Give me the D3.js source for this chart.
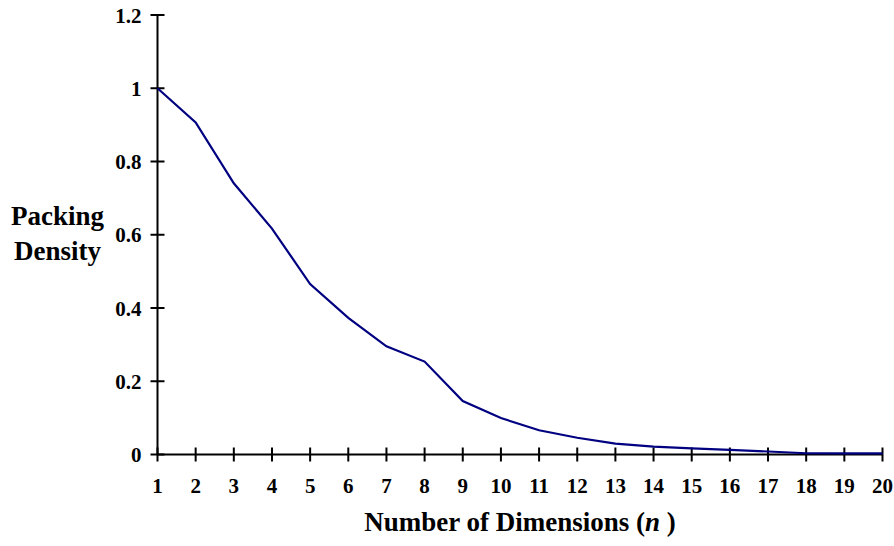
<!DOCTYPE html>
<html><head><meta charset="utf-8">
<script src="https://cdn.jsdelivr.net/npm/d3@7"></script>
<style>body{margin:0;background:#fff}svg{display:block}text{font-family:"Liberation Serif","Times New Roman",serif;font-weight:bold;fill:#000}</style>
</head><body>
<svg id="c" width="894" height="546"></svg>
<script>
const dimensions = [1,2,3,4,5,6,7,8,9,10,11,12,13,14,15,16,17,18,19,20];
const density = [1.0,0.9069,0.7405,0.6169,0.4653,0.3729,0.2953,0.2537,0.1458,0.0996,0.0662,0.0457,0.0295,0.0216,0.0168,0.0127,0.0082,0.0034,0.0033,0.0033];
const yTicks = [0,0.2,0.4,0.6,0.8,1,1.2];
const yLabel = ["Packing","Density"];

const svg = d3.select("#c");
const x = d3.scaleLinear().domain([1,20]).range([157.5,882.5]);
const y = d3.scaleLinear().domain([0,1.2]).range([454.5,15]);

// axes
const ax = svg.append("g").attr("stroke","#000").attr("stroke-width",2);
ax.append("line").attr("x1",x(1)).attr("x2",x(20)).attr("y1",y(0)).attr("y2",y(0));
ax.append("line").attr("x1",x(1)).attr("x2",x(1)).attr("y1",y(0)).attr("y2",y(1.2));
ax.selectAll(".yt").data(yTicks).enter().append("line")
  .attr("x1",x(1)-7).attr("x2",x(1)+7).attr("y1",d=>y(d)).attr("y2",d=>y(d));
ax.selectAll(".xt").data(dimensions).enter().append("line")
  .attr("x1",d=>x(d)).attr("x2",d=>x(d)).attr("y1",y(0)-7).attr("y2",y(0)+7);

svg.selectAll(".yl").data(yTicks).enter().append("text")
  .attr("x",141.5).attr("y",d=>y(d)+7.5).attr("text-anchor","end").attr("font-size",21)
  .text(d=>d3.format("")(d));
svg.selectAll(".xl").data(dimensions).enter().append("text")
  .attr("x",d=>x(d)).attr("y",492.5).attr("text-anchor","middle").attr("font-size",21)
  .text(d=>d);

// line
svg.append("path").datum(dimensions.map((d,i)=>[d,density[i]]))
  .attr("fill","none").attr("stroke","#000080").attr("stroke-width",2.2)
  .attr("d",d3.line().x(d=>x(d[0])).y(d=>y(d[1])));

// titles
const t = svg.append("text").attr("x",520).attr("y",530.5).attr("text-anchor","middle").attr("font-size",27);
t.append("tspan").text("Number of Dimensions (");
t.append("tspan").attr("font-style","italic").text("n");
t.append("tspan").text(" )");
svg.selectAll(".ylab").data(yLabel).enter().append("text")
  .attr("x",57.5).attr("y",(d,i)=>225+i*35).attr("text-anchor","middle").attr("font-size",27)
  .text(d=>d);
</script>
</body></html>
